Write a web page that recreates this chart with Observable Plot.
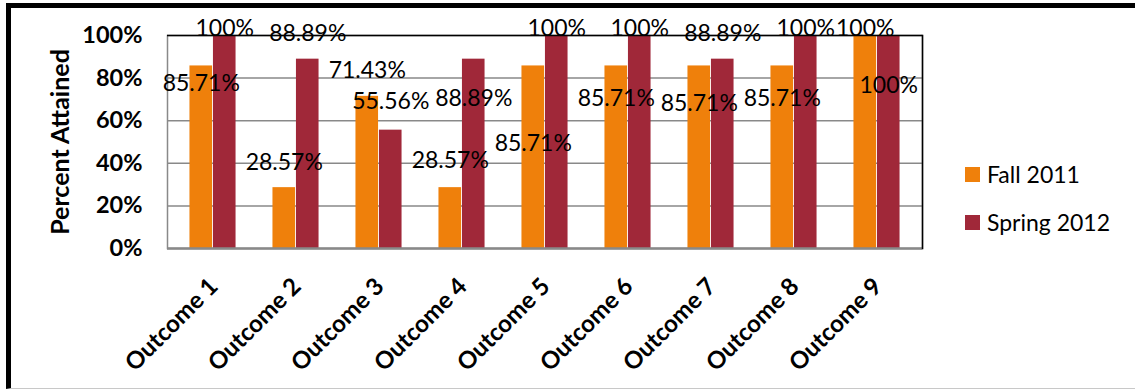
<!DOCTYPE html>
<html>
<head>
<meta charset="utf-8">
<script src="https://cdn.jsdelivr.net/npm/d3@7"></script>
<script src="https://cdn.jsdelivr.net/npm/@observablehq/plot@0.6"></script>
<style>
  html, body { margin: 0; padding: 0; background: #fff; }
  #wrap { position: relative; width: 1135px; height: 389px; overflow: hidden; font-family: Lato, "Open Sans", sans-serif; }
  #border { position: absolute; left: 6px; top: 3px; width: 1135px; height: 380px;
            border-left: 5px solid #000; border-top: 5px solid #000; border-bottom: 1px solid #c8c8c8; }
  #chart { position: absolute; left: 0; top: 0; }
  .legend { position: absolute; left: 965px; font-size: 23px; color: #000; }
  .legend .row { position: absolute; left: 0; display: flex; align-items: center; white-space: nowrap; }
  .legend .sw { width: 15px; height: 15px; margin-right: 7px; }
</style>
</head>
<body>
<div id="wrap">
  <div id="border"></div>
  <div id="chart"></div>
  <div class="legend" id="legend"></div>
</div>
<script>
const outcomes = ["Outcome 1", "Outcome 2", "Outcome 3", "Outcome 4", "Outcome 5", "Outcome 6", "Outcome 7", "Outcome 8", "Outcome 9"];
const fall2011 = [85.71, 28.57, 71.43, 28.57, 85.71, 85.71, 85.71, 85.71, 100];
const spring2012 = [100, 88.89, 55.56, 88.89, 100, 100, 88.89, 100, 100];
// vertical positions (in percent units) where the data labels sit in the picture
const fallLabelAt = [77.5, 40.4, 83.6, 41.3, 49.3, 70.4, 68, 70.4, 103.3];
const springLabelAt = [103.3, 101, 69, 70.4, 103.3, 103.3, 101, 103.3, 76.5];
const seriesNames = ["Fall 2011", "Spring 2012"];
const seriesColors = ["#EF800B", "#A02839"];
const yTicks = [0, 20, 40, 60, 80, 100];
const yTitle = "Percent Attained";

const W = 1135, H = 389;
const mL = 167, mR = 213, mT = 35, mB = 141;
const band = (W - mL - mR) / outcomes.length;
const gap = band * 0.44;
const barW = (band - gap) / 2;

const rows = outcomes.map((o, i) => ({
  outcome: o,
  fall: fall2011[i], spring: spring2012[i],
  fallAt: fallLabelAt[i], springAt: springLabelAt[i]
}));
const fmt = v => (Number.isInteger(v) ? String(v) : v.toFixed(2)) + "%";

const font = "Lato, 'Open Sans', sans-serif";

const chart = Plot.plot({
  width: W, height: H,
  marginLeft: mL, marginRight: mR, marginTop: mT, marginBottom: mB,
  style: { fontFamily: font, color: "#000", background: "transparent", overflow: "visible" },
  x: { type: "band", domain: outcomes, paddingInner: 0, paddingOuter: 0, label: null },
  y: { domain: [0, 100], label: null },
  marks: [
    Plot.frame({ stroke: "#898989", strokeWidth: 1.5 }),
    Plot.ruleY(yTicks.filter(v => v > 0 && v < 100), { stroke: "#898989", strokeWidth: 1.5 }),
    Plot.barY(rows, { x: "outcome", y: "fall", fill: seriesColors[0], insetLeft: gap / 2, insetRight: gap / 2 + barW }),
    Plot.barY(rows, { x: "outcome", y: "spring", fill: seriesColors[1], insetLeft: gap / 2 + barW, insetRight: gap / 2 }),
    Plot.ruleY([0], { stroke: "#898989", strokeWidth: 2.5 }),
    Plot.ruleY([100], { stroke: "#000", strokeWidth: 1.5 }),
    Plot.frame({ anchor: "right", stroke: "#000", strokeWidth: 1.5 }),
    Plot.text(rows, { x: "outcome", y: "fallAt", text: d => fmt(d.fall), dx: -barW / 2, fontSize: 23, fill: "#000" }),
    Plot.text(rows, { x: "outcome", y: "springAt", text: d => fmt(d.spring), dx: barW / 2, fontSize: 23, fill: "#000" }),
    Plot.axisY({ ticks: yTicks, tickFormat: d => d + "%", tickSize: 0, tickPadding: 25, fontSize: 23.5, fontWeight: "bold", label: null }),
    Plot.axisX({ tickRotate: -45, tickSize: 0, tickPadding: 34, dx: 1, fontSize: 24, fontWeight: "bold", label: null }),
    Plot.text([yTitle], { frameAnchor: "left", textAnchor: "middle", rotate: -90, dx: -107, fontSize: 25, fontWeight: "bold", fill: "#000" })
  ]
});
document.getElementById("chart").appendChild(chart);

const legend = document.getElementById("legend");
const legendTops = [174, 222];
seriesNames.forEach((name, i) => {
  const row = document.createElement("div");
  row.className = "row";
  row.style.top = (legendTops[i] - 15) + "px";
  row.style.height = "30px";
  const sw = document.createElement("div");
  sw.className = "sw";
  sw.style.background = seriesColors[i];
  const t = document.createElement("span");
  t.textContent = name;
  row.appendChild(sw); row.appendChild(t);
  legend.appendChild(row);
});
</script>
</body>
</html>
